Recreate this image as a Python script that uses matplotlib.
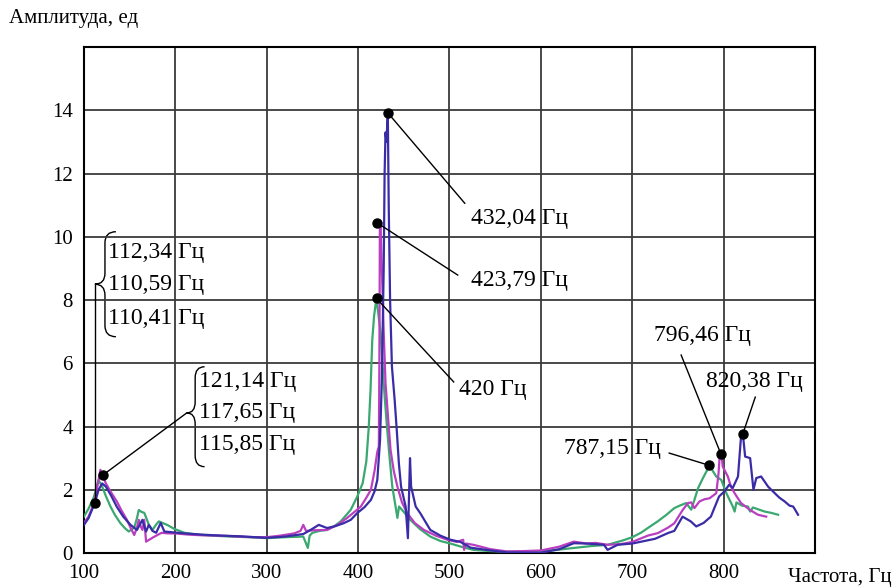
import matplotlib
matplotlib.use('Agg')
import matplotlib.pyplot as plt
from matplotlib.path import Path
from matplotlib.patches import PathPatch

plt.rcParams['font.family'] = ['Liberation Serif', 'DejaVu Serif']

# blue series (frequency, amplitude)
blue_f = [100, 105, 112, 116, 118, 120, 124, 130, 136, 143, 151, 158, 164, 168, 171, 175,
          179, 184, 188, 195, 210, 230, 250, 270, 300, 320, 340, 348, 357, 366, 375, 384,
          392, 399, 407, 414, 418, 421, 424, 426, 428, 429, 430, 431, 432.5, 433.5, 435,
          437, 440, 442.5, 444.6, 447, 452, 454.5, 456.8, 458, 463, 468, 479, 490, 501,
          512, 523, 540, 563, 600, 620, 636, 650, 669, 673, 684, 700, 710, 725, 739, 746,
          755, 764, 770, 778, 786, 795, 800.6, 806, 810, 815.7, 819, 821, 823.5, 829,
          832.6, 835.7, 841, 848.6, 856, 861, 866.8, 872, 876, 878, 881.4]
blue_a = [0.89, 1.1, 1.59, 2.0, 2.1, 2.2, 2.1, 1.8, 1.46, 1.15, 0.89, 0.73, 1.05, 0.68, 0.89, 0.7,
          0.64, 0.95, 0.68, 0.66, 0.62, 0.58, 0.55, 0.53, 0.48, 0.52, 0.6, 0.73, 0.89, 0.79, 0.85, 0.94,
          1.05, 1.26, 1.45, 1.68, 1.95, 2.31, 3.57, 5.5, 9.0, 12.0, 13.3, 13.0, 13.92, 11.0, 8.0,
          5.9, 4.84, 3.8, 2.84, 2.1, 1.47, 0.47, 3.0, 2.1, 1.47, 1.26, 0.73, 0.55, 0.42,
          0.35, 0.17, 0.1, 0.02, 0.01, 0.12, 0.31, 0.3, 0.26, 0.1, 0.26, 0.3, 0.36, 0.45, 0.63, 0.7,
          1.15, 1.0, 0.84, 0.95, 1.15, 1.79, 1.94, 2.16, 2.06, 2.42, 3.68, 3.77, 3.05, 3.0,
          2.0, 2.37, 2.42, 2.1, 1.89, 1.75, 1.63, 1.5, 1.47, 1.38, 1.21]

# magenta series
mag_f = [100, 105, 110, 114, 116.5, 118, 120.5, 124, 129, 136, 141, 147, 151, 155, 158, 160,
         162, 164, 166, 168, 176, 185, 192, 200, 215, 230, 250, 270, 285, 300, 315, 330, 337,
         340, 343, 352, 366, 378, 388, 396, 403, 409, 414, 418, 421, 422.7, 423.3, 423.8,
         424.5, 426, 428, 430, 433, 435.5, 439, 443, 448, 453.8, 462, 472, 485, 497.7, 508,
         515, 516, 518, 526, 545, 563, 580, 600, 620, 636, 650, 660, 673, 687, 700, 717, 728,
         739, 746, 755.4, 761, 764.5, 768, 773.5, 779, 784.5, 791.9, 794.4, 795.5, 797.4,
         799, 804.6, 808, 812, 819, 828.4, 837.5, 846.6]
mag_a = [0.95, 1.15, 1.5, 2.0, 2.4, 2.63, 2.46, 2.2, 1.95, 1.63, 1.35, 1.05, 0.8, 0.57, 0.8, 1.05,
         0.85, 0.73, 1.05, 0.36, 0.5, 0.64, 0.62, 0.62, 0.58, 0.56, 0.55, 0.52, 0.5, 0.5, 0.55, 0.62, 0.7,
         0.89, 0.7, 0.72, 0.73, 0.9, 1.11, 1.3, 1.47, 1.75, 2.0, 2.6, 3.2, 3.37, 6.0, 10.2,
         10.45, 9.0, 7.0, 5.37, 4.2, 3.26, 2.6, 2.1, 1.6, 1.26, 0.95, 0.73, 0.55, 0.42, 0.35,
         0.42, 0.1, 0.3, 0.26, 0.12, 0.05, 0.06, 0.08, 0.2, 0.36, 0.3, 0.32, 0.26, 0.28, 0.35, 0.55, 0.63,
         0.8, 0.94, 1.37, 1.58, 1.6, 1.42, 1.63, 1.7, 1.73, 1.89, 2.52, 3.0, 3.2,
         2.73, 2.42, 2.1, 1.89, 1.58, 1.37, 1.21, 1.15]

# green series
green_f = [100, 105, 111, 114, 116, 118, 120, 124, 129, 134, 140, 145, 149, 155, 158, 160, 163,
           166, 169, 171, 175, 179, 182, 186, 191, 199, 210, 225, 240, 260, 280, 300, 320, 340,
           345, 347, 350, 358, 366, 374, 381, 387, 392, 399, 405, 409, 411.7, 413.6, 415.5,
           417.5, 420, 422, 424.6, 428, 431, 433.7, 437.4, 441, 443, 444.8, 450, 457, 468, 479,
           490, 501, 515, 526, 545, 563, 580, 600, 618, 636, 655, 673, 690, 700, 710, 717,
           727.8, 737, 746, 752, 759, 764.5, 768, 772, 777, 781, 784.5, 788, 791.9, 797.4,
           803, 810, 812, 814, 820, 826.6, 829, 832, 838, 845, 852, 859.6]
green_a = [1.15, 1.4, 1.78, 2.1, 2.31, 2.2, 2.1, 1.8, 1.47, 1.2, 0.94, 0.78, 0.68, 0.8, 1.1, 1.36, 1.3,
           1.27, 1.05, 0.89, 0.73, 0.9, 1.0, 0.95, 0.89, 0.76, 0.64, 0.58, 0.55, 0.52, 0.5, 0.47, 0.5, 0.52,
           0.16, 0.55, 0.64, 0.7, 0.73, 0.85, 1.0, 1.2, 1.37, 1.78, 2.21, 2.9, 4.0, 5.16, 6.74,
           7.5, 8.05, 7.6, 6.96, 5.37, 4.2, 3.26, 2.1, 1.47, 1.11, 1.47, 1.3, 1.05, 0.75, 0.52,
           0.38, 0.3, 0.18, 0.1, 0.06, 0.04, 0.04, 0.05, 0.1, 0.16, 0.22, 0.26, 0.4, 0.5, 0.65, 0.79,
           1.0, 1.2, 1.42, 1.5, 1.58, 1.37, 1.68, 2.05, 2.35, 2.57, 2.77, 2.6, 2.42, 2.31,
           1.89, 1.47, 1.31, 1.6, 1.5, 1.47, 1.31, 1.44, 1.38, 1.31, 1.27, 1.21]

# peak annotations: dot (x, y), leader end (x, y), label position, label text
peak_dots = [(432.5, 13.92), (420.3, 10.45), (420.2, 8.05), (784.5, 2.77), (797.0, 3.13), (821.0, 3.77)]
peak_ends = [(516.7, 11.06), (509.0, 8.79), (504.6, 5.41), (740.4, 3.16), (753.5, 6.26), (834.6, 4.93)]
peak_text_xy = [(523, 10.59), (523, 8.63), (510, 5.16), (731, 3.32), (724, 6.89), (781, 5.41)]
peak_text = ['432,04 Гц', '423,79 Гц', '420 Гц', '787,15 Гц', '796,46 Гц', '820,38 Гц']
peak_ha = ['left', 'left', 'left', 'right', 'left', 'left']

group1 = ['112,34 Гц', '110,59 Гц', '110,41 Гц']
group2 = ['121,14 Гц', '117,65 Гц', '115,85 Гц']


def brace(ax, x_tip, x_v, x_end, y_top, y_mid, y_bot, h=0.35):
    verts = [(x_end, y_top), (x_v, y_top), (x_v, y_top - h),
             (x_v, y_mid + h), (x_v, y_mid), (x_tip, y_mid),
             (x_v, y_mid), (x_v, y_mid - h),
             (x_v, y_bot + h), (x_v, y_bot), (x_end, y_bot)]
    codes = [Path.MOVETO, Path.CURVE3, Path.CURVE3,
             Path.LINETO, Path.CURVE3, Path.CURVE3,
             Path.CURVE3, Path.CURVE3,
             Path.LINETO, Path.CURVE3, Path.CURVE3]
    ax.add_patch(PathPatch(Path(verts, codes), fill=False, color='black', lw=1.0))


fig = plt.figure(figsize=(8.93, 5.88), dpi=100)
ax = fig.add_axes([0.094, 0.0595, 0.8187, 0.8605])

ax.plot(green_f, green_a, color='#3aa870', lw=1.6, zorder=3)
ax.plot(mag_f, mag_a, color='#b93fc0', lw=1.6, zorder=4)
ax.plot(blue_f, blue_a, color='#3a2ca6', lw=1.6, zorder=5)

ax.set_xlim(100, 900)
ax.set_ylim(0, 16)
ax.set_xticks(range(100, 901, 100))
ax.set_xticklabels([str(v) for v in range(100, 801, 100)] + [''])
ax.set_yticks(range(0, 17, 2))
ax.set_yticklabels([str(v) for v in range(0, 15, 2)] + [''])
ax.tick_params(length=0, labelsize=15, pad=8)
ax.grid(True, color='#3a3a3a', lw=1.3)
for s in ax.spines.values():
    s.set_linewidth(1.5)

for (dx, dy), (ex, ey), (tx, ty), t, ha in zip(peak_dots, peak_ends, peak_text_xy, peak_text, peak_ha):
    ax.plot([dx, ex], [dy, ey], color='black', lw=1.0, zorder=6)
    ax.plot(dx, dy, 'o', color='black', ms=6.5, zorder=7)
    ax.text(tx, ty, t, fontsize=17, ha=ha, va='center', zorder=8)

# low-frequency groups
ax.plot([112.0, 112.0], [1.59, 8.5], color='black', lw=1.0, zorder=6)
ax.plot(112.0, 1.59, 'o', color='black', ms=6.5, zorder=7)
brace(ax, 112.0, 123.0, 135.0, 10.16, 8.5, 6.84)
for t, ty in zip(group1, [9.49, 8.48, 7.43]):
    ax.text(126.5, ty, t, fontsize=17, ha='left', va='center')

ax.plot([120.5, 212.5], [2.46, 4.43], color='black', lw=1.0, zorder=6)
ax.plot(120.5, 2.46, 'o', color='black', ms=6.5, zorder=7)
brace(ax, 212.5, 221.7, 232.0, 5.89, 4.43, 2.73)
for t, ty in zip(group2, [5.42, 4.43, 3.42]):
    ax.text(226.0, ty, t, fontsize=17, ha='left', va='center')

fig.text(0.010, 0.968, 'Амплитуда, ед', fontsize=15, ha='left', va='center')
fig.text(0.998, 0.018, 'Частота, Гц', fontsize=15, ha='right', va='center')

fig.savefig('out.png', dpi=100)
